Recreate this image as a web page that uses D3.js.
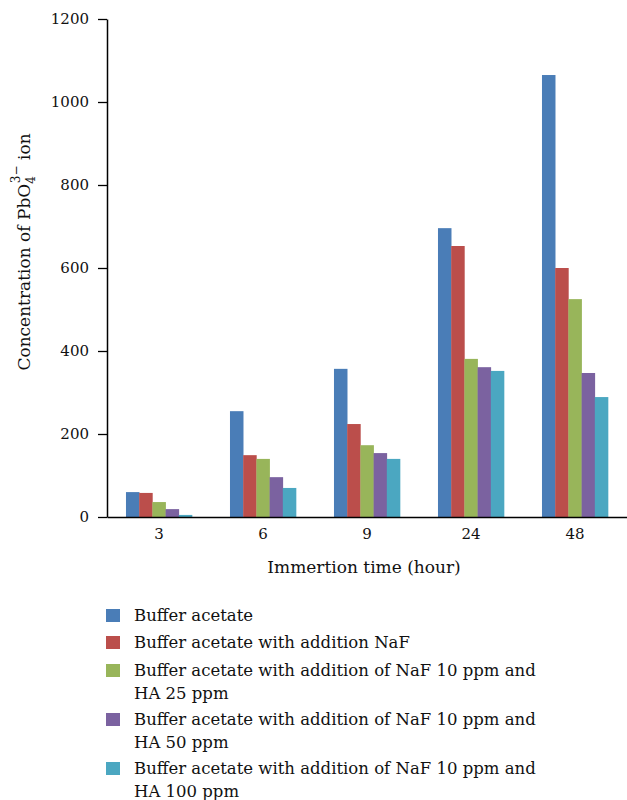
<!DOCTYPE html>
<html>
<head>
<meta charset="utf-8">
<script src="https://cdn.jsdelivr.net/npm/d3@7"></script>
<style>
  body { margin: 0; background: #fff; }
  svg { display: block; font-family: "DejaVu Serif", "Liberation Serif", serif; }
</style>
</head>
<body>
<div id="chart"></div>
<script>
// immersion time categories (hours)
const hours = ['3', '6', '9', '24', '48'];
const seriesNames = [
  'Buffer acetate',
  'Buffer acetate with addition NaF',
  'Buffer acetate with addition of NaF 10 ppm and|HA 25 ppm',
  'Buffer acetate with addition of NaF 10 ppm and|HA 50 ppm',
  'Buffer acetate with addition of NaF 10 ppm and|HA 100 ppm'
];
const bufferAcetate = [60, 255, 357, 696, 1065];
const withNaF = [58, 149, 224, 653, 600];
const naFHA25 = [36, 140, 173, 381, 525];
const naFHA50 = [19, 96, 154, 361, 347];
const naFHA100 = [5, 70, 140, 352, 289];
const yTicks = [0, 200, 400, 600, 800, 1000, 1200];
const colors = ['#4a7db7', '#bb4e4b', '#98b55a', '#7b62a0', '#4ba7c1'];

const series = [bufferAcetate, withNaF, naFHA25, naFHA50, naFHA100];
const font = '"DejaVu Serif", "Liberation Serif", serif';

const width = 627, height = 800;
const margin = { left: 107, right: 0, top: 19, bottom: 283 };

const svg = d3.select('#chart').append('svg')
  .attr('width', width)
  .attr('height', height);

const x = d3.scaleBand()
  .domain(hours)
  .range([margin.left, width - margin.right])
  .paddingInner(0.365)
  .paddingOuter(0.1825);

const xInner = d3.scaleBand()
  .domain(d3.range(series.length))
  .range([0, x.bandwidth()]);

const y = d3.scaleLinear()
  .domain([0, 1200])
  .range([height - margin.bottom, margin.top]);

// bars
const groups = svg.append('g').selectAll('g')
  .data(hours)
  .join('g')
  .attr('transform', d => `translate(${x(d)},0)`);

groups.selectAll('rect')
  .data((d, i) => series.map((s, k) => ({ k, v: s[i] })))
  .join('rect')
  .attr('x', d => xInner(d.k))
  .attr('width', xInner.bandwidth() + 0.3)
  .attr('y', d => y(d.v))
  .attr('height', d => y(0) - y(d.v))
  .attr('fill', d => colors[d.k]);

// y axis
const yAxis = svg.append('g')
  .attr('transform', `translate(${margin.left},0)`)
  .call(d3.axisLeft(y).tickValues(yTicks).tickFormat(d3.format('d'))
    .tickSize(9).tickPadding(9).tickSizeOuter(0))
  .attr('font-family', font)
  .attr('font-size', 15);
yAxis.select('.domain').attr('stroke', '#000').attr('stroke-width', 1.5);
yAxis.selectAll('.tick line').attr('stroke', '#000').attr('stroke-width', 1.3);
yAxis.selectAll('.tick text').attr('fill', '#111');

// x axis
const xAxis = svg.append('g')
  .attr('transform', `translate(0,${y(0)})`)
  .call(d3.axisBottom(x).tickSize(0).tickPadding(11))
  .attr('font-family', font)
  .attr('font-size', 15);
xAxis.select('.domain').attr('stroke', '#000').attr('stroke-width', 1.5);
xAxis.selectAll('.tick text').attr('fill', '#111');

// axis titles
svg.append('text')
  .attr('x', 364)
  .attr('y', 573)
  .attr('text-anchor', 'middle')
  .attr('fill', '#111')
  .style('font-size', '17px')
  .text('Immertion time (hour)');

const yTitle = svg.append('text')
  .attr('transform', `translate(30,252) rotate(-90)`)
  .attr('text-anchor', 'middle')
  .attr('fill', '#111')
  .style('font-size', '17px');
yTitle.append('tspan').text('Concentration of PbO');
yTitle.append('tspan').attr('dy', 5).style('font-size', '12px').text('4');
yTitle.append('tspan').attr('dx', -7).attr('dy', -15).style('font-size', '12px').text('3\u2212');
yTitle.append('tspan').attr('dy', 10).text(' ion');

// legend
const legendTop = [609, 636, 664, 713, 762];
const legend = svg.append('g').selectAll('g')
  .data(seriesNames)
  .join('g')
  .attr('transform', (d, i) => `translate(106,${legendTop[i]})`);

legend.append('rect')
  .attr('width', 14)
  .attr('height', 13)
  .attr('fill', (d, i) => colors[i]);

legend.append('text')
  .attr('fill', '#111')
  .style('font-size', '16.5px')
  .selectAll('tspan')
  .data(d => d.split('|'))
  .join('tspan')
  .attr('x', 28)
  .attr('y', (d, i) => 12 + i * 22.5)
  .text(d => d);
</script>
</body>
</html>
